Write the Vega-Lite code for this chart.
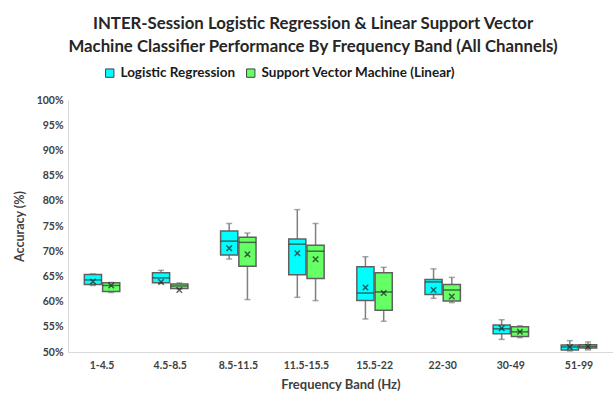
{
  "$schema": "https://vega.github.io/schema/vega-lite/v6.json",
  "width": 545,
  "height": 252,
  "autosize": {"type": "none"},
  "padding": {"left": 68, "top": 100, "right": 0, "bottom": 48},
  "background": "white",
  "config": {
    "font": "Lato",
    "view": {"stroke": null},
    "axis": {"labelFont": "Lato", "titleFont": "Lato", "labelFontWeight": "bold", "titleFontWeight": "bold", "labelColor": "#404040", "titleColor": "#404040"}
  },
  "title": {
    "text": ["INTER-Session Logistic Regression & Linear Support Vector", "Machine Classifier Performance By Frequency Band (All Channels)"],
    "font": "Lato",
    "fontSize": 16.8,
    "fontWeight": "bold",
    "color": "#262626",
    "lineHeight": 23,
    "anchor": "middle",
    "frame": "bounds",
    "offset": 10
  },
  "data": {
    "values": [
      {"band": "1-4.5", "clf": "Logistic Regression", "min": 63.2, "q1": 63.4, "median": 64.3, "q3": 65.4, "max": 65.5, "mean": 64.0},
      {"band": "1-4.5", "clf": "Support Vector Machine (Linear)", "min": 61.8, "q1": 62.0, "median": 63.2, "q3": 63.75, "max": 63.8, "mean": 63.2},
      {"band": "4.5-8.5", "clf": "Logistic Regression", "min": 63.6, "q1": 63.75, "median": 64.7, "q3": 65.7, "max": 66.2, "mean": 63.9},
      {"band": "4.5-8.5", "clf": "Support Vector Machine (Linear)", "min": 62.5, "q1": 62.6, "median": 63.1, "q3": 63.5, "max": 63.7, "mean": 62.3},
      {"band": "8.5-11.5", "clf": "Logistic Regression", "min": 68.45, "q1": 69.25, "median": 72.0, "q3": 74.0, "max": 75.5, "mean": 70.6},
      {"band": "8.5-11.5", "clf": "Support Vector Machine (Linear)", "min": 60.4, "q1": 67.0, "median": 71.75, "q3": 72.75, "max": 73.6, "mean": 69.4},
      {"band": "11.5-15.5", "clf": "Logistic Regression", "min": 60.85, "q1": 65.35, "median": 71.4, "q3": 72.4, "max": 78.25, "mean": 69.6},
      {"band": "11.5-15.5", "clf": "Support Vector Machine (Linear)", "min": 60.2, "q1": 64.6, "median": 70.0, "q3": 71.2, "max": 75.5, "mean": 68.4},
      {"band": "15.5-22", "clf": "Logistic Regression", "min": 56.55, "q1": 60.2, "median": 61.7, "q3": 66.9, "max": 68.9, "mean": 62.8},
      {"band": "15.5-22", "clf": "Support Vector Machine (Linear)", "min": 56.1, "q1": 58.3, "median": 61.9, "q3": 65.7, "max": 66.8, "mean": 61.7},
      {"band": "22-30", "clf": "Logistic Regression", "min": 60.65, "q1": 61.4, "median": 63.9, "q3": 64.4, "max": 66.5, "mean": 62.3},
      {"band": "22-30", "clf": "Support Vector Machine (Linear)", "min": 59.8, "q1": 60.1, "median": 62.3, "q3": 63.4, "max": 64.8, "mean": 61.0},
      {"band": "30-49", "clf": "Logistic Regression", "min": 52.5, "q1": 53.6, "median": 54.6, "q3": 55.35, "max": 56.4, "mean": 54.7},
      {"band": "30-49", "clf": "Support Vector Machine (Linear)", "min": 52.85, "q1": 53.1, "median": 54.0, "q3": 55.0, "max": 55.2, "mean": 54.0},
      {"band": "51-99", "clf": "Logistic Regression", "min": 50.2, "q1": 50.4, "median": 51.0, "q3": 51.4, "max": 52.25, "mean": 51.0},
      {"band": "51-99", "clf": "Support Vector Machine (Linear)", "min": 50.4, "q1": 50.8, "median": 51.1, "q3": 51.45, "max": 52.0, "mean": 51.1}
    ]
  },
  "encoding": {
    "x": {
      "field": "band", "type": "nominal", "sort": null,
      "scale": {"paddingInner": 0.48, "paddingOuter": 0.24},
      "axis": {"title": "Frequency Band (Hz)", "titleFontSize": 13, "titlePadding": 8, "labelAngle": 0, "labelFontSize": 10.5, "labelPadding": 8, "ticks": false, "domainColor": "#d9d9d9", "labelColor": "#404040"}
    },
    "xOffset": {"field": "clf", "type": "nominal", "scale": {"paddingInner": 0.06, "paddingOuter": 0}}
  },
  "layer": [
    {
      "mark": {"type": "rule", "color": "#808080", "strokeWidth": 1.5},
      "encoding": {
        "y": {"field": "min", "type": "quantitative", "scale": {"domain": [50, 100], "nice": false},
          "axis": {"title": "Accuracy (%)", "titleFontSize": 12.5, "titlePadding": 10, "values": [50, 55, 60, 65, 70, 75, 80, 85, 90, 95, 100], "labelExpr": "datum.value + '%'", "labelOverlap": false, "labelFontSize": 10.5, "grid": false, "ticks": false, "domainColor": "#d9d9d9", "labelPadding": 5}},
        "y2": {"field": "max"}
      }
    },
    {
      "mark": {"type": "tick", "color": "#808080", "size": 6, "thickness": 1.5, "orient": "horizontal"},
      "encoding": {"y": {"field": "min", "type": "quantitative",
          "axis": {"title": "Accuracy (%)", "titleFontSize": 12.5, "titlePadding": 10, "values": [50, 55, 60, 65, 70, 75, 80, 85, 90, 95, 100], "labelExpr": "datum.value + '%'", "labelOverlap": false, "labelFontSize": 10.5, "grid": false, "ticks": false, "domainColor": "#d9d9d9", "labelPadding": 5}}}
    },
    {
      "mark": {"type": "tick", "color": "#808080", "size": 6, "thickness": 1.5, "orient": "horizontal"},
      "encoding": {"y": {"field": "max", "type": "quantitative",
          "axis": {"title": "Accuracy (%)", "titleFontSize": 12.5, "titlePadding": 10, "values": [50, 55, 60, 65, 70, 75, 80, 85, 90, 95, 100], "labelExpr": "datum.value + '%'", "labelOverlap": false, "labelFontSize": 10.5, "grid": false, "ticks": false, "domainColor": "#d9d9d9", "labelPadding": 5}}}
    },
    {
      "mark": {"type": "bar", "stroke": "#606060", "strokeWidth": 1.5},
      "encoding": {
        "y": {"field": "q1", "type": "quantitative",
          "axis": {"title": "Accuracy (%)", "titleFontSize": 12.5, "titlePadding": 10, "values": [50, 55, 60, 65, 70, 75, 80, 85, 90, 95, 100], "labelExpr": "datum.value + '%'", "labelOverlap": false, "labelFontSize": 10.5, "grid": false, "ticks": false, "domainColor": "#d9d9d9", "labelPadding": 5}},
        "y2": {"field": "q3"},
        "color": {
          "field": "clf", "type": "nominal",
          "scale": {"domain": ["Logistic Regression", "Support Vector Machine (Linear)"], "range": ["#00FFFF", "#66FF66"]},
          "legend": {"title": null, "orient": "none", "legendX": 35, "legendY": -34, "direction": "horizontal", "symbolType": "square", "symbolSize": 70, "symbolStrokeColor": "#404040", "symbolStrokeWidth": 1, "labelFont": "Lato", "labelFontSize": 13.5, "labelFontWeight": "bold", "labelColor": "#1a1a1a", "labelLimit": 400, "columnPadding": 8, "labelOffset": 4}
        }
      }
    },
    {
      "mark": {"type": "tick", "color": "#303030", "size": 17, "thickness": 1.5, "orient": "horizontal"},
      "encoding": {"y": {"field": "median", "type": "quantitative",
          "axis": {"title": "Accuracy (%)", "titleFontSize": 12.5, "titlePadding": 10, "values": [50, 55, 60, 65, 70, 75, 80, 85, 90, 95, 100], "labelExpr": "datum.value + '%'", "labelOverlap": false, "labelFontSize": 10.5, "grid": false, "ticks": false, "domainColor": "#d9d9d9", "labelPadding": 5}}}
    },
    {
      "mark": {"type": "point", "shape": "M-1,-1L1,1M-1,1L1,-1", "filled": false, "stroke": "#202020", "strokeWidth": 1.5, "size": 30},
      "encoding": {"y": {"field": "mean", "type": "quantitative",
          "axis": {"title": "Accuracy (%)", "titleFontSize": 12.5, "titlePadding": 10, "values": [50, 55, 60, 65, 70, 75, 80, 85, 90, 95, 100], "labelExpr": "datum.value + '%'", "labelOverlap": false, "labelFontSize": 10.5, "grid": false, "ticks": false, "domainColor": "#d9d9d9", "labelPadding": 5}}}
    }
  ]
}
